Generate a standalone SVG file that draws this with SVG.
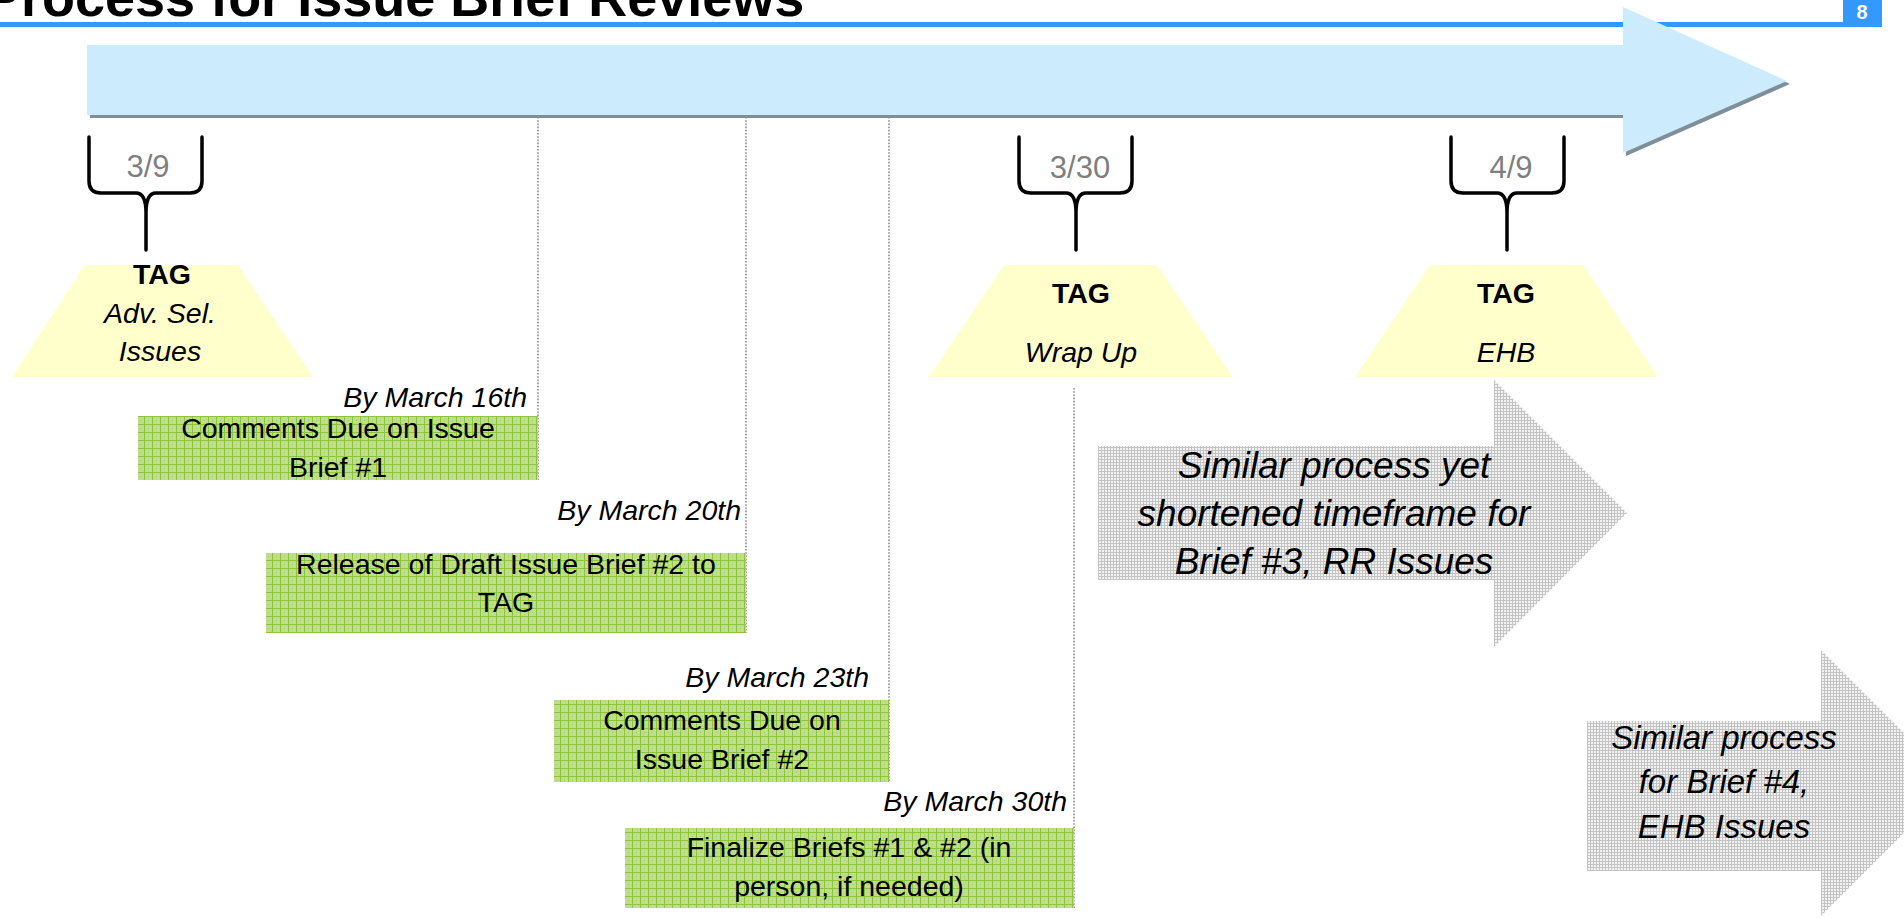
<svg xmlns="http://www.w3.org/2000/svg" width="1904" height="918" viewBox="0 0 1904 918">
<defs>
<style>
text{font-family:"Liberation Sans",Arial,sans-serif;fill:#000}
.b{font-size:28.5px}
.i{font-size:28.5px;font-style:italic}
.tag{font-size:28.5px;font-weight:bold}
.dt{font-size:31px;fill:#7F7F7F}
.g1{font-size:37px;font-style:italic}
.g2{font-size:33px;font-style:italic}
.dot{stroke:#8C8C8C;stroke-width:1.6;stroke-dasharray:1.6 1.6;fill:none}
.br{stroke:#000;stroke-width:3.5;fill:none;stroke-linecap:round;stroke-linejoin:round}
.trap{fill:#FFFFCC}
.box{fill:url(#grn)}
.garrow{fill:url(#gry)}
</style>
<pattern id="grn" width="8" height="8" patternUnits="userSpaceOnUse">
<rect width="8" height="8" fill="#BEDE8C"/>
<path d="M0.5,0V8M0,0.5H8" stroke="#8CC43C" stroke-width="1"/>
<rect x="4" y="4" width="1" height="1" fill="#A3D05E"/>
</pattern>
<pattern id="gry" width="3" height="3" patternUnits="userSpaceOnUse">
<rect width="3" height="3" fill="#F2F2F2"/>
<path d="M0,0.5H3M0.5,0V3" stroke="#C4C4C4" stroke-width="1"/>
</pattern>
</defs>
<rect width="1904" height="918" fill="#FFFFFF"/>

<g id="header">
<text x="-15" y="16" style="font-size:54px;font-weight:bold">Process for Issue Brief Reviews</text>
<rect x="0" y="22" width="1882" height="5" fill="#3399FF"/>
<rect x="1843" y="0" width="39" height="27" fill="#3399FF"/>
<text x="1862" y="19" text-anchor="middle" style="font-size:20px;font-weight:bold;fill:#FFFFFF">8</text>
</g>

<g id="timeline">
<polygon points="90,48 1626,48 1626,10 1790,84 1626,156 1626,118 90,118" fill="#7F8F99"/>
<polygon points="87,45 1623,45 1623,7 1787,81 1623,153 1623,115 87,115" fill="#CCECFD"/>
</g>

<g id="connectors">
<line class="dot" x1="538" y1="117" x2="538" y2="480"/>
<line class="dot" x1="746" y1="117" x2="746" y2="633"/>
<line class="dot" x1="889" y1="117" x2="889" y2="782"/>
<line class="dot" x1="1074" y1="388" x2="1074" y2="908"/>
</g>

<g id="bracket-3-9">
<path class="br" d="M89,137 L89,181 Q89,193 101,193 L136,193 Q146,193 146,213 L146,250 M202,137 L202,181 Q202,193 190,193 L156,193 Q146,193 146,213"/>
<text class="dt" x="148" y="177" text-anchor="middle">3/9</text>
</g>
<g id="bracket-3-30">
<path class="br" d="M1019,137 L1019,181 Q1019,193 1031,193 L1066,193 Q1076,193 1076,213 L1076,250 M1132,137 L1132,181 Q1132,193 1120,193 L1086,193 Q1076,193 1076,213"/>
<text class="dt" x="1080" y="178" text-anchor="middle">3/30</text>
</g>
<g id="bracket-4-9">
<path class="br" d="M1451,137 L1451,181 Q1451,193 1463,193 L1497,193 Q1507,193 1507,213 L1507,250 M1564,137 L1564,181 Q1564,193 1552,193 L1517,193 Q1507,193 1507,213"/>
<text class="dt" x="1511" y="178" text-anchor="middle">4/9</text>
</g>

<g id="tag-adv-sel">
<polygon class="trap" points="85,265 238,265 313,377 12,377"/>
<text class="tag" x="162" y="284" text-anchor="middle">TAG</text>
<text class="i" x="160" y="323" text-anchor="middle">Adv. Sel.</text>
<text class="i" x="160" y="361" text-anchor="middle">Issues</text>
</g>
<g id="tag-wrap-up">
<polygon class="trap" points="1004,265 1157,265 1233,377 929,377"/>
<text class="tag" x="1081" y="303" text-anchor="middle">TAG</text>
<text class="i" x="1081" y="362" text-anchor="middle">Wrap Up</text>
</g>
<g id="tag-ehb">
<polygon class="trap" points="1430,265 1583,265 1658,377 1355,377"/>
<text class="tag" x="1506" y="303" text-anchor="middle">TAG</text>
<text class="i" x="1506" y="362" text-anchor="middle">EHB</text>
</g>

<g id="step-1">
<text class="i" x="527" y="407" text-anchor="end">By March 16th</text>
<rect class="box" x="138" y="416" width="400" height="64"/>
<text class="b" x="338" y="438" text-anchor="middle">Comments Due on Issue</text>
<text class="b" x="338" y="477" text-anchor="middle">Brief #1</text>
</g>
<g id="step-2">
<text class="i" x="741" y="520" text-anchor="end">By March 20th</text>
<rect class="box" x="266" y="553" width="480" height="80"/>
<text class="b" x="506" y="574" text-anchor="middle">Release of Draft Issue Brief #2 to</text>
<text class="b" x="506" y="612" text-anchor="middle">TAG</text>
</g>
<g id="step-3">
<text class="i" x="869" y="687" text-anchor="end">By March 23th</text>
<rect class="box" x="554" y="700" width="335" height="82"/>
<text class="b" x="722" y="730" text-anchor="middle">Comments Due on</text>
<text class="b" x="722" y="769" text-anchor="middle">Issue Brief #2</text>
</g>
<g id="step-4">
<text class="i" x="1067" y="811" text-anchor="end">By March 30th</text>
<rect class="box" x="625" y="828" width="449" height="80"/>
<text class="b" x="849" y="857" text-anchor="middle">Finalize Briefs #1 &amp; #2 (in</text>
<text class="b" x="849" y="896" text-anchor="middle">person, if needed)</text>
</g>

<g id="brief-3">
<polygon class="garrow" points="1098,446 1494,446 1494,380 1627,513 1494,647 1494,580 1098,580"/>
<text class="g1" x="1334" y="478" text-anchor="middle">Similar process yet</text>
<text class="g1" x="1334" y="526" text-anchor="middle">shortened timeframe for</text>
<text class="g1" x="1334" y="574" text-anchor="middle">Brief #3, RR Issues</text>
</g>
<g id="brief-4">
<polygon class="garrow" points="1587,721 1821,721 1821,650 1954,783 1821,916 1821,871 1587,871"/>
<text class="g2" x="1724" y="749" text-anchor="middle">Similar process</text>
<text class="g2" x="1724" y="793" text-anchor="middle">for Brief #4,</text>
<text class="g2" x="1724" y="838" text-anchor="middle">EHB Issues</text>
</g>
</svg>
